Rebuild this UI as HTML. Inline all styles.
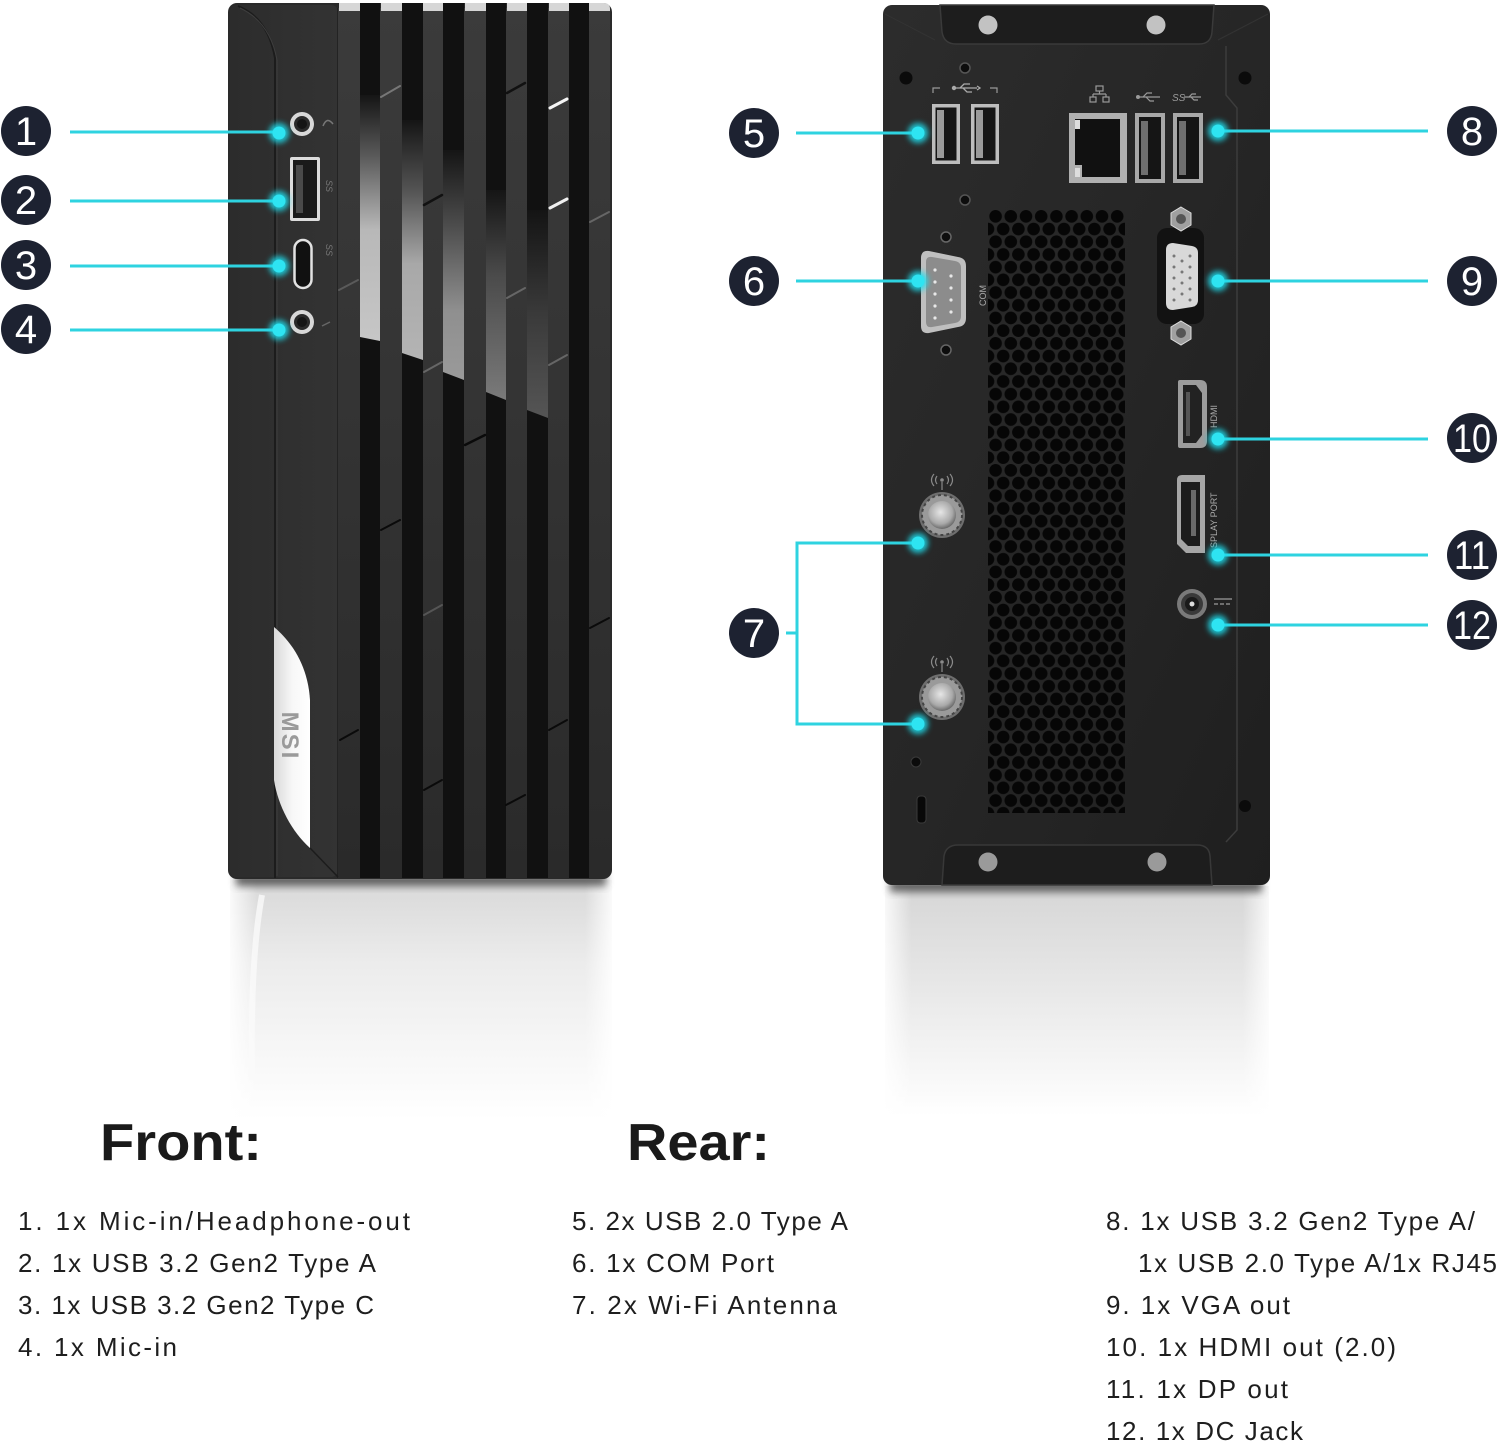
<!DOCTYPE html>
<html>
<head>
<meta charset="utf-8">
<style>
html,body{margin:0;padding:0;background:#fff;}
body{width:1500px;height:1442px;overflow:hidden;position:relative;}
svg{position:absolute;left:0;top:0;}
</style>
</head>
<body>
<svg width="1500" height="1442" viewBox="0 0 1500 1442" xmlns="http://www.w3.org/2000/svg">
<defs>
  <filter id="glow" x="-100%" y="-100%" width="300%" height="300%"><feGaussianBlur stdDeviation="3"/></filter>
  <filter id="blur4" x="-20%" y="-50%" width="140%" height="200%"><feGaussianBlur stdDeviation="4"/></filter>
  <filter id="blur2"><feGaussianBlur stdDeviation="1.2"/></filter>
  <linearGradient id="reflF" x1="0" y1="0" x2="0" y2="1">
    <stop offset="0" stop-color="#d8d8d8"/>
    <stop offset="0.35" stop-color="#ececec"/>
    <stop offset="1" stop-color="#ffffff"/>
  </linearGradient>
  <linearGradient id="reflR" x1="0" y1="0" x2="0" y2="1">
    <stop offset="0" stop-color="#d6d6d6"/>
    <stop offset="0.45" stop-color="#e8e8e8"/>
    <stop offset="1" stop-color="#ffffff"/>
  </linearGradient>
  <linearGradient id="fadeX" x1="0" y1="0" x2="1" y2="0">
    <stop offset="0" stop-color="#fff" stop-opacity="1"/>
    <stop offset="0.08" stop-color="#fff" stop-opacity="0"/>
    <stop offset="0.92" stop-color="#fff" stop-opacity="0"/>
    <stop offset="1" stop-color="#fff" stop-opacity="1"/>
  </linearGradient>
  <linearGradient id="leftPanel" x1="0" y1="0" x2="1" y2="0">
    <stop offset="0" stop-color="#2c2c2c"/>
    <stop offset="1" stop-color="#333333"/>
  </linearGradient>
  <linearGradient id="grayStripe" x1="0" y1="0" x2="0" y2="1">
    <stop offset="0" stop-color="#3b3b3b"/>
    <stop offset="0.5" stop-color="#333333"/>
    <stop offset="1" stop-color="#2a2a2a"/>
  </linearGradient>
  <linearGradient id="f1" x1="0" y1="95" x2="0" y2="340" gradientUnits="userSpaceOnUse">
    <stop offset="0" stop-color="#151515"/>
    <stop offset="0.25" stop-color="#5a5a5a"/>
    <stop offset="0.55" stop-color="#b8b8b8"/>
    <stop offset="1" stop-color="#c6c6c6"/>
  </linearGradient>
  <linearGradient id="f2" x1="0" y1="120" x2="0" y2="360" gradientUnits="userSpaceOnUse">
    <stop offset="0" stop-color="#151515"/>
    <stop offset="0.3" stop-color="#555"/>
    <stop offset="0.6" stop-color="#a8a8a8"/>
    <stop offset="1" stop-color="#b4b4b4"/>
  </linearGradient>
  <linearGradient id="f3" x1="0" y1="150" x2="0" y2="380" gradientUnits="userSpaceOnUse">
    <stop offset="0" stop-color="#151515"/>
    <stop offset="0.35" stop-color="#505050"/>
    <stop offset="0.7" stop-color="#8f8f8f"/>
    <stop offset="1" stop-color="#9a9a9a"/>
  </linearGradient>
  <linearGradient id="f4" x1="0" y1="190" x2="0" y2="400" gradientUnits="userSpaceOnUse">
    <stop offset="0" stop-color="#151515"/>
    <stop offset="0.4" stop-color="#4a4a4a"/>
    <stop offset="1" stop-color="#7a7a7a"/>
  </linearGradient>
  <linearGradient id="f5" x1="0" y1="210" x2="0" y2="418" gradientUnits="userSpaceOnUse">
    <stop offset="0" stop-color="#141414"/>
    <stop offset="0.5" stop-color="#3a3a3a"/>
    <stop offset="1" stop-color="#555"/>
  </linearGradient>
  <linearGradient id="plate" x1="0" y1="0" x2="1" y2="0">
    <stop offset="0" stop-color="#d9d9d9"/>
    <stop offset="0.5" stop-color="#f7f7f7"/>
    <stop offset="1" stop-color="#ffffff"/>
  </linearGradient>
  <linearGradient id="rearBody" x1="0" y1="0" x2="1" y2="1">
    <stop offset="0" stop-color="#2c2c2c"/>
    <stop offset="0.5" stop-color="#262626"/>
    <stop offset="1" stop-color="#1f1f1f"/>
  </linearGradient>
  <radialGradient id="nut" cx="0.45" cy="0.4" r="0.6">
    <stop offset="0" stop-color="#e6e6e6"/>
    <stop offset="0.7" stop-color="#a9a9a9"/>
    <stop offset="1" stop-color="#6a6a6a"/>
  </radialGradient>
  <pattern id="hex" x="988" y="210" width="15.2" height="25.4" patternUnits="userSpaceOnUse">
    <circle cx="7.6" cy="6.35" r="6.3" fill="#060606"/>
    <circle cx="0" cy="19.05" r="6.3" fill="#060606"/>
    <circle cx="15.2" cy="19.05" r="6.3" fill="#060606"/>
  </pattern>
</defs>

<!-- ================= REFLECTIONS ================= -->
<rect x="230" y="880" width="382" height="240" fill="url(#reflF)"/>
<rect x="885" y="886" width="384" height="230" fill="url(#reflR)"/>
<rect x="226" y="878" width="390" height="245" fill="url(#fadeX)"/>
<rect x="880" y="884" width="394" height="235" fill="url(#fadeX)"/>
<path d="M262,895 Q250,960 252,1080" stroke="#fafafa" stroke-width="6" fill="none" opacity="0.8"/>
<!-- shadows -->
<rect x="236" y="872" width="370" height="14" fill="#444" filter="url(#blur4)" opacity="0.8"/>
<rect x="890" y="878" width="372" height="14" fill="#444" filter="url(#blur4)" opacity="0.8"/>

<!-- ================= FRONT PC ================= -->
<rect x="228" y="3" width="384" height="876" rx="9" fill="#2a2a2a"/>
<rect x="230" y="5" width="108" height="872" rx="7" fill="url(#leftPanel)"/>
<path d="M238,6 Q268,18 275,58 L275,878" stroke="#1c1c1c" stroke-width="2" fill="none"/>
<path d="M240,8 Q270,22 277,60 L277,876" stroke="#3e3e3e" stroke-width="1" fill="none"/>
<line x1="338" y1="8" x2="338" y2="878" stroke="#1e1e1e" stroke-width="1.5"/>

<!-- gray stripes -->
<g fill="url(#grayStripe)">
  <rect x="338" y="8" width="22" height="870"/>
  <rect x="380" y="8" width="22" height="870"/>
  <rect x="423" y="8" width="20" height="870"/>
  <rect x="464" y="8" width="22" height="870"/>
  <rect x="506" y="8" width="21" height="870"/>
  <rect x="548" y="8" width="21" height="870"/>
  <rect x="589" y="8" width="21" height="866"/>
</g>
<!-- black stripes -->
<g fill="#111">
  <rect x="360" y="3" width="20" height="875"/>
  <rect x="402" y="3" width="21" height="875"/>
  <rect x="443" y="3" width="21" height="875"/>
  <rect x="486" y="3" width="20" height="875"/>
  <rect x="527" y="3" width="21" height="875"/>
  <rect x="569" y="3" width="20" height="875"/>
</g>
<!-- top caps -->
<g fill="#d6d6d6">
  <rect x="339" y="3" width="21" height="8"/>
  <rect x="381" y="3" width="21" height="8"/>
  <rect x="423" y="3" width="20" height="8"/>
  <rect x="465" y="3" width="21" height="8"/>
  <rect x="507" y="3" width="20" height="8"/>
  <rect x="549" y="3" width="20" height="8"/>
  <path d="M589,3 L604,3 Q610,3 610,9 L610,11 L589,11 Z"/>
</g>
<!-- lit facets -->
<polygon points="360,95 380,95 380,341 360,337" fill="url(#f1)"/>
<polygon points="402,120 423,120 423,360 402,353" fill="url(#f2)"/>
<polygon points="443,150 464,150 464,380 443,372" fill="url(#f3)"/>
<polygon points="486,190 506,190 506,400 486,392" fill="url(#f4)"/>
<polygon points="527,210 548,210 548,418 527,410" fill="url(#f5)"/>
<!-- highlight dashes -->
<g stroke-linecap="round">
  <line x1="550" y1="108" x2="567" y2="99" stroke="#f5f5f5" stroke-width="3"/>
  <line x1="550" y1="208" x2="567" y2="199" stroke="#f0f0f0" stroke-width="3"/>
  <line x1="381" y1="97" x2="400" y2="86" stroke="#777" stroke-width="2"/>
  <line x1="424" y1="205" x2="442" y2="195" stroke="#111" stroke-width="2.5"/>
  <line x1="507" y1="93" x2="525" y2="83" stroke="#111" stroke-width="2.5"/>
  <line x1="339" y1="290" x2="358" y2="280" stroke="#5a5a5a" stroke-width="2"/>
  <line x1="424" y1="372" x2="442" y2="362" stroke="#666" stroke-width="2"/>
  <line x1="507" y1="298" x2="525" y2="288" stroke="#666" stroke-width="2"/>
  <line x1="549" y1="365" x2="567" y2="355" stroke="#666" stroke-width="2"/>
  <line x1="590" y1="222" x2="609" y2="212" stroke="#666" stroke-width="2"/>
  <line x1="465" y1="445" x2="485" y2="435" stroke="#0a0a0a" stroke-width="2.5"/>
  <line x1="381" y1="530" x2="400" y2="520" stroke="#0a0a0a" stroke-width="2"/>
  <line x1="424" y1="615" x2="442" y2="605" stroke="#555" stroke-width="2"/>
  <line x1="340" y1="740" x2="358" y2="730" stroke="#0a0a0a" stroke-width="2"/>
  <line x1="590" y1="628" x2="609" y2="618" stroke="#0a0a0a" stroke-width="2"/>
  <line x1="506" y1="805" x2="525" y2="795" stroke="#0a0a0a" stroke-width="2"/>
  <line x1="549" y1="730" x2="567" y2="720" stroke="#0a0a0a" stroke-width="2"/>
  <line x1="424" y1="790" x2="442" y2="780" stroke="#0a0a0a" stroke-width="2"/>
</g>
<!-- MSI plate -->
<path d="M274,627 C294,644 308,668 310,700 L310,848 C292,832 278,806 274,780 Z" fill="url(#plate)"/>
<text x="0" y="0" transform="translate(282,736) rotate(90)" font-family="Liberation Sans, sans-serif" font-weight="bold" font-size="24" fill="#9a9a9a" text-anchor="middle" letter-spacing="2">MSI</text>
<path d="M310,848 L338,877" stroke="#1c1c1c" stroke-width="1.5"/>

<!-- front ports -->
<circle cx="302" cy="124" r="12" fill="#d8d8d8"/>
<circle cx="302" cy="124" r="8" fill="#2a2a2a"/>
<circle cx="302" cy="124" r="5" fill="#151515"/>
<path d="M323,126 q4,-10 10,-2" stroke="#777" stroke-width="1.5" fill="none"/>
<rect x="290" y="157" width="30" height="64" rx="2" fill="#dcdcdc"/>
<rect x="293" y="160" width="24" height="58" fill="#1a1a1a"/>
<rect x="296" y="165" width="7" height="48" fill="#4a4a4a"/>
<text transform="translate(326,180) rotate(90)" font-family="Liberation Sans, sans-serif" font-size="9" fill="#777" font-style="italic">SS</text>
<rect x="294.5" y="240" width="17" height="48" rx="8.5" fill="#111" stroke="#e2e2e2" stroke-width="2.5"/>
<text transform="translate(326,244) rotate(90)" font-family="Liberation Sans, sans-serif" font-size="9" fill="#777" font-style="italic">SS</text>
<circle cx="302" cy="322" r="12" fill="#d8d8d8"/>
<circle cx="302" cy="322" r="8" fill="#2a2a2a"/>
<circle cx="302" cy="322" r="5" fill="#151515"/>
<line x1="322" y1="326" x2="330" y2="322" stroke="#666" stroke-width="1.5"/>

<!-- ================= REAR PC ================= -->
<rect x="883" y="5" width="387" height="880" rx="9" fill="url(#rearBody)"/>
<path d="M1226,46 L1226,95 L1237,108 L1237,830 L1226,842" stroke="#3c3c3c" stroke-width="1.5" fill="none"/>
<path d="M885,14 L935,40" stroke="#333" stroke-width="1"/>
<path d="M1268,14 L1218,40" stroke="#333" stroke-width="1"/>
<!-- top bracket -->
<path d="M940,5 L942,32 Q944,44 956,44 L1199,44 Q1211,44 1212,32 L1214,5 Z" fill="#1d1d1d" stroke="#3a3a3a" stroke-width="1.5"/>
<circle cx="988" cy="25" r="9.5" fill="#c2c2c2"/>
<circle cx="1156" cy="25" r="9.5" fill="#c2c2c2"/>
<!-- bottom bracket -->
<path d="M942,885 L944,856 Q946,845 958,845 L1197,845 Q1209,845 1210,856 L1212,885 Z" fill="#1d1d1d" stroke="#383838" stroke-width="1.5"/>
<circle cx="988" cy="862" r="9.5" fill="#9a9a9a"/>
<circle cx="1157" cy="862" r="9.5" fill="#9a9a9a"/>
<!-- corner holes -->
<circle cx="906" cy="78" r="6.5" fill="#0b0b0b"/>
<circle cx="1245" cy="78" r="6.5" fill="#0b0b0b"/>
<circle cx="1245" cy="806" r="6" fill="#0b0b0b"/>
<circle cx="916" cy="762" r="5" fill="#0b0b0b" stroke="#3a3a3a"/>
<rect x="917" y="796" width="9" height="27" rx="3.5" fill="#080808" stroke="#3a3a3a"/>
<!-- small holes -->
<circle cx="965" cy="68" r="5" fill="#0d0d0d" stroke="#555" stroke-width="1.5"/>
<circle cx="965" cy="200" r="5" fill="#0d0d0d" stroke="#555" stroke-width="1.5"/>
<circle cx="946" cy="237" r="5" fill="#0d0d0d" stroke="#666" stroke-width="1.5"/>
<circle cx="946" cy="350" r="5" fill="#0d0d0d" stroke="#666" stroke-width="1.5"/>
<!-- USB icon + bracket -->
<path d="M933,93 L933,88 L940,88 M990,88 L997,88 L997,93" stroke="#999" stroke-width="1.2" fill="none"/>
<circle cx="954" cy="88" r="2.2" fill="#aaa"/>
<path d="M954,88 L977,88 M960,88 L964,84 L970,84 M963,88 L967,92 L972,92 M977,86 L980,88 L977,90" stroke="#aaa" stroke-width="1.3" fill="none"/>
<!-- USB 2.0 pair -->
<rect x="932" y="104" width="28" height="60" fill="#bdbdbd"/>
<rect x="935.5" y="107.5" width="21" height="53" fill="#161616"/>
<rect x="937" y="110" width="7" height="48" fill="#9a9a9a"/>
<rect x="971" y="104" width="28" height="60" fill="#bdbdbd"/>
<rect x="974.5" y="107.5" width="21" height="53" fill="#161616"/>
<rect x="976" y="110" width="7" height="48" fill="#9a9a9a"/>
<!-- icons above rear ports -->
<g stroke="#9a9a9a" stroke-width="1.2" fill="none">
  <rect x="1096" y="86" width="7" height="5"/>
  <path d="M1099.5,91 L1099.5,94 M1093,94 L1106,94 M1093,94 L1093,97 M1106,94 L1106,97"/>
  <rect x="1090" y="97" width="6" height="5"/>
  <rect x="1103" y="97" width="6" height="5"/>
  <path d="M1138,97 L1160,97 M1143,97 L1147,93 L1152,93 M1146,97 L1150,101 L1154,101"/>
  <path d="M1184,97 L1201,97 M1189,97 L1192,94 L1196,94 M1191,97 L1194,100 L1198,100"/>
</g>
<circle cx="1138" cy="97" r="2" fill="#9a9a9a"/>
<text x="1172" y="101" font-family="Liberation Sans, sans-serif" font-size="10" font-style="italic" fill="#9a9a9a">SS</text>
<!-- RJ45 -->
<rect x="1069" y="113" width="58" height="70" fill="#b0b0b0"/>
<path d="M1075,119 L1120,119 L1120,177 L1082,177 L1082,165 L1075,165 Z" fill="#111"/>
<rect x="1075" y="120" width="5" height="9" fill="#ddd"/>
<rect x="1075" y="168" width="5" height="9" fill="#ddd"/>
<!-- USB 2.0 -->
<rect x="1135" y="113" width="30" height="70" fill="#a8a8a8"/>
<rect x="1139" y="117" width="22" height="62" fill="#151515"/>
<rect x="1141" y="121" width="7" height="54" fill="#6f6f6f"/>
<!-- USB 3 -->
<rect x="1173" y="113" width="30" height="70" fill="#a8a8a8"/>
<rect x="1177" y="117" width="22" height="62" fill="#151515"/>
<rect x="1179" y="121" width="7" height="54" fill="#6f6f6f"/>

<!-- vent -->
<rect x="988" y="210" width="137" height="603" fill="url(#hex)"/>

<!-- COM port -->
<path d="M921,258 Q921,250 929,251 L958,257 Q966,258 966,266 L966,318 Q966,326 958,327 L929,333 Q921,334 921,326 Z" fill="#bfbfbf"/>
<path d="M926,262 Q926,256 932,257 L955,261 Q961,262 961,268 L961,316 Q961,322 955,323 L932,327 Q926,328 926,322 Z" fill="#8c8c8c"/>
<g fill="#e8e8e8">
  <circle cx="935" cy="270" r="1.6"/><circle cx="935" cy="282" r="1.6"/><circle cx="935" cy="294" r="1.6"/><circle cx="935" cy="306" r="1.6"/><circle cx="935" cy="318" r="1.6"/>
  <circle cx="951" cy="276" r="1.6"/><circle cx="951" cy="288" r="1.6"/><circle cx="951" cy="300" r="1.6"/><circle cx="951" cy="312" r="1.6"/>
</g>
<text transform="translate(986,306) rotate(-90)" font-family="Liberation Sans, sans-serif" font-size="9" fill="#aaa">COM</text>

<!-- VGA -->
<rect x="1157" y="228" width="47" height="96" rx="10" fill="#121212"/>
<polygon points="1181,207 1191,213 1191,225 1181,231 1171,225 1171,213" fill="#a0a0a0" stroke="#ddd" stroke-width="1"/>
<circle cx="1181" cy="219" r="5" fill="#555"/>
<polygon points="1181,321 1191,327 1191,339 1181,345 1171,339 1171,327" fill="#a0a0a0" stroke="#ddd" stroke-width="1"/>
<circle cx="1181" cy="333" r="5" fill="#555"/>
<path d="M1166,250 Q1166,243 1173,243 L1192,246 Q1198,247 1198,253 L1198,300 Q1198,306 1192,307 L1173,310 Q1166,310 1166,303 Z" fill="#d8d8d8"/>
<g fill="#777">
  <circle cx="1174" cy="256" r="1.5"/><circle cx="1174" cy="267" r="1.5"/><circle cx="1174" cy="278" r="1.5"/><circle cx="1174" cy="289" r="1.5"/><circle cx="1174" cy="300" r="1.5"/>
  <circle cx="1182" cy="261" r="1.5"/><circle cx="1182" cy="272" r="1.5"/><circle cx="1182" cy="283" r="1.5"/><circle cx="1182" cy="294" r="1.5"/>
  <circle cx="1190" cy="256" r="1.5"/><circle cx="1190" cy="267" r="1.5"/><circle cx="1190" cy="278" r="1.5"/><circle cx="1190" cy="289" r="1.5"/><circle cx="1190" cy="300" r="1.5"/>
</g>

<!-- HDMI -->
<path d="M1180,380 L1200,380 Q1207,380 1207,387 L1207,441 Q1207,448 1200,448 L1180,448 Q1178,448 1178,446 L1178,382 Q1178,380 1180,380 Z" fill="#9c9c9c"/>
<path d="M1183,385 L1196,385 L1202,393 L1202,435 L1196,443 L1183,443 Z" fill="#222"/>
<rect x="1186" y="392" width="4" height="44" fill="#555"/>
<text transform="translate(1217,428) rotate(-90)" font-family="Liberation Sans, sans-serif" font-size="9" fill="#aaa">HDMI</text>
<!-- DP -->
<path d="M1177,480 Q1177,475 1182,475 L1205,475 L1205,553 L1186,553 L1177,544 Z" fill="#a6a6a6"/>
<path d="M1181,482 L1200,482 L1200,546 L1188,546 L1181,539 Z" fill="#1c1c1c"/>
<rect x="1191" y="490" width="5" height="46" fill="#6a6a6a"/>
<text transform="translate(1217,548) rotate(-90)" font-family="Liberation Sans, sans-serif" font-size="9" fill="#aaa">SPLAY PORT</text>
<!-- DC jack -->
<circle cx="1192" cy="604" r="15" fill="#7a7a7a"/>
<circle cx="1192" cy="604" r="11" fill="#3a3a3a"/>
<circle cx="1192" cy="604" r="7" fill="#1a1a1a"/>
<circle cx="1192" cy="604" r="2.5" fill="#ddd"/>
<line x1="1214" y1="599" x2="1232" y2="599" stroke="#888" stroke-width="1.5"/>
<line x1="1214" y1="604" x2="1232" y2="604" stroke="#888" stroke-width="1.5" stroke-dasharray="4,2"/>

<!-- antennas -->
<g>
  <circle cx="942" cy="515" r="23" fill="#6e6e6e"/>
  <circle cx="942" cy="515" r="20" fill="#9a9a9a" stroke="#444" stroke-width="2" stroke-dasharray="3,3"/>
  <circle cx="942" cy="515" r="14" fill="url(#nut)"/>
  <circle cx="942" cy="697" r="23" fill="#6e6e6e"/>
  <circle cx="942" cy="697" r="20" fill="#9a9a9a" stroke="#444" stroke-width="2" stroke-dasharray="3,3"/>
  <circle cx="942" cy="697" r="14" fill="url(#nut)"/>
  <g stroke="#8a8a8a" stroke-width="1.2" fill="none">
    <path d="M937,476 q-3,4 0,8 M947,476 q3,4 0,8 M934,474 q-5,6 0,12 M950,474 q5,6 0,12 M942,482 L942,490"/>
    <path d="M937,658 q-3,4 0,8 M947,658 q3,4 0,8 M934,656 q-5,6 0,12 M950,656 q5,6 0,12 M942,664 L942,672"/>
  </g>
  <circle cx="942" cy="480" r="1.8" fill="#8a8a8a"/>
  <circle cx="942" cy="662" r="1.8" fill="#8a8a8a"/>
</g>

<!-- ================= CALLOUT LINES ================= -->
<g stroke="#2ed3e0" stroke-width="3" fill="none">
  <line x1="70" y1="132" x2="279" y2="132"/>
  <line x1="70" y1="201" x2="279" y2="201"/>
  <line x1="70" y1="266" x2="279" y2="266"/>
  <line x1="70" y1="330" x2="279" y2="330"/>
  <line x1="796" y1="133" x2="918" y2="133"/>
  <line x1="796" y1="281" x2="918" y2="281"/>
  <path d="M918,543 L797,543 L797,724 L918,724"/>
  <line x1="786" y1="633" x2="797" y2="633"/>
  <line x1="1218" y1="131" x2="1428" y2="131"/>
  <line x1="1218" y1="281" x2="1428" y2="281"/>
  <line x1="1218" y1="439" x2="1428" y2="439"/>
  <line x1="1218" y1="555" x2="1428" y2="555"/>
  <line x1="1218" y1="625" x2="1428" y2="625"/>
</g>
<g fill="#1fe0f0" filter="url(#glow)" opacity="0.85">
  <circle cx="279" cy="133" r="10"/><circle cx="279" cy="201" r="10"/><circle cx="279" cy="266" r="10"/><circle cx="279" cy="330" r="10"/>
  <circle cx="918" cy="133" r="10"/><circle cx="918" cy="281" r="10"/><circle cx="918" cy="543" r="10"/><circle cx="918" cy="724" r="10"/>
  <circle cx="1218" cy="131" r="10"/><circle cx="1218" cy="281" r="10"/><circle cx="1218" cy="439" r="10"/><circle cx="1218" cy="555" r="10"/><circle cx="1218" cy="625" r="10"/>
</g>
<g fill="#2ee4f2">
  <circle cx="279" cy="133" r="6.5"/><circle cx="279" cy="201" r="6.5"/><circle cx="279" cy="266" r="6.5"/><circle cx="279" cy="330" r="6.5"/>
  <circle cx="918" cy="133" r="6.5"/><circle cx="918" cy="281" r="6.5"/><circle cx="918" cy="543" r="6.5"/><circle cx="918" cy="724" r="6.5"/>
  <circle cx="1218" cy="131" r="6.5"/><circle cx="1218" cy="281" r="6.5"/><circle cx="1218" cy="439" r="6.5"/><circle cx="1218" cy="555" r="6.5"/><circle cx="1218" cy="625" r="6.5"/>
</g>

<!-- ================= NUMBER BADGES ================= -->
<g fill="#1d2231">
  <circle cx="26" cy="131" r="25"/><circle cx="26" cy="200" r="25"/><circle cx="26" cy="265" r="25"/><circle cx="26" cy="329" r="25"/>
  <circle cx="754" cy="133" r="25"/><circle cx="754" cy="281" r="25"/><circle cx="754" cy="633" r="25"/>
  <circle cx="1472" cy="131" r="25"/><circle cx="1472" cy="281" r="25"/><circle cx="1472" cy="438" r="25"/><circle cx="1472" cy="555" r="25"/><circle cx="1472" cy="625" r="25"/>
</g>
<g font-family="Liberation Sans, sans-serif" font-size="40" fill="#ffffff" text-anchor="middle">
  <text x="26" y="145">1</text>
  <text x="26" y="214">2</text>
  <text x="26" y="279">3</text>
  <text x="26" y="343">4</text>
  <text x="754" y="147">5</text>
  <text x="754" y="295">6</text>
  <text x="754" y="647">7</text>
  <text x="1472" y="145">8</text>
  <text x="1472" y="295">9</text>
  <text x="1472" y="452" textLength="38" lengthAdjust="spacingAndGlyphs">10</text>
  <text x="1472" y="569" textLength="36" lengthAdjust="spacingAndGlyphs">11</text>
  <text x="1472" y="639" textLength="38" lengthAdjust="spacingAndGlyphs">12</text>
</g>

<!-- ================= TEXT ================= -->
<g font-family="Liberation Sans, sans-serif" font-weight="bold" font-size="52" fill="#1a1a1a">
  <text x="100" y="1160" textLength="162" lengthAdjust="spacingAndGlyphs">Front:</text>
  <text x="627" y="1160" textLength="143" lengthAdjust="spacingAndGlyphs">Rear:</text>
</g>
<g font-family="Liberation Sans, sans-serif" font-size="26" fill="#1e1e1e" lengthAdjust="spacing">
  <text x="18" y="1230" textLength="392">1. 1x Mic-in/Headphone-out</text>
  <text x="18" y="1272" textLength="358">2. 1x USB 3.2 Gen2 Type A</text>
  <text x="18" y="1314" textLength="356">3. 1x USB 3.2 Gen2 Type C</text>
  <text x="18" y="1356" textLength="159">4. 1x Mic-in</text>
  <text x="572" y="1230" textLength="276">5. 2x USB 2.0 Type A</text>
  <text x="572" y="1272" textLength="202">6. 1x COM Port</text>
  <text x="572" y="1314" textLength="265">7. 2x Wi-Fi Antenna</text>
  <text x="1106" y="1230" textLength="369">8. 1x USB 3.2 Gen2 Type A/</text>
  <text x="1138" y="1272" textLength="359">1x USB 2.0 Type A/1x RJ45</text>
  <text x="1106" y="1314" textLength="184">9. 1x VGA out</text>
  <text x="1106" y="1356" textLength="290">10. 1x HDMI out (2.0)</text>
  <text x="1106" y="1398" textLength="182">11. 1x DP out</text>
  <text x="1106" y="1440" textLength="197">12. 1x DC Jack</text>
</g>
</svg>
</body>
</html>
